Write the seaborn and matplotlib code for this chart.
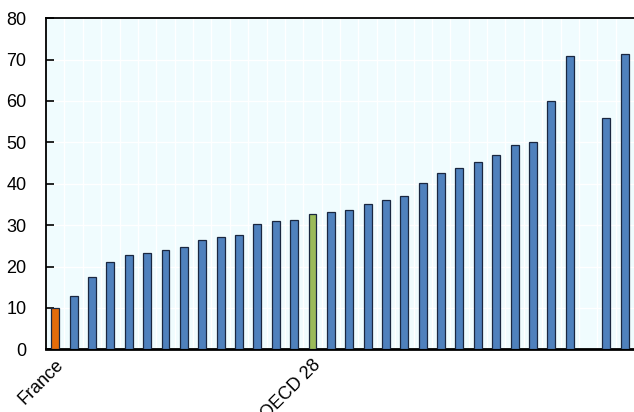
import numpy as np
import pandas as pd
import seaborn as sns
import matplotlib.pyplot as plt
from matplotlib.ticker import FixedLocator

# Values (one gap before the last two bars)
values = [10.0, 12.8, 17.5, 21.0, 22.9, 23.3, 23.9, 24.7, 26.3, 27.1, 27.7, 30.4, 31.0, 31.2,
          32.8, 33.1, 33.7, 35.1, 36.1, 37.0, 40.3, 42.7, 43.7, 45.3, 46.9, 49.4, 50.2, 59.9,
          70.9, np.nan, 55.8, 71.3]
labels = [""] * len(values)
labels[0] = "France"
labels[14] = "OECD 28"
groups = ["other"] * len(values)
groups[0] = "France"
groups[14] = "OECD"

palette = {"France": "#E46C0A", "OECD": "#9BBB59", "other": "#4F81BD"}

df = pd.DataFrame({
    "cat": [f"c{i}" for i in range(len(values))],
    "value": values,
    "group": groups,
})

sns.set_style("white")
plt.rcParams["font.family"] = ["Liberation Sans", "DejaVu Sans"]
plt.rcParams["text.color"] = "black"
plt.rcParams["xtick.color"] = "black"
plt.rcParams["ytick.color"] = "black"

fig = plt.figure(figsize=(6.34, 4.12), dpi=100)
ax = fig.add_axes([0.0726, 0.152, 0.9274, 0.804])
ax.set_facecolor("#F0FCFE")

sns.barplot(data=df, x="cat", y="value", hue="group", palette=palette, saturation=1,
            dodge=False, legend=False, width=0.43, edgecolor="#1A2740",
            linewidth=0.9, ax=ax, zorder=3)

n = len(values)
ax.set_xlim(-0.5, n - 0.5)
ax.set_ylim(0, 80)
ax.set_yticks(range(0, 81, 10))
ax.set_xticks(range(n))
ax.set_xticklabels(labels, rotation=45, ha="right", rotation_mode="anchor", fontsize=13)
ax.xaxis.set_minor_locator(FixedLocator([i + 0.5 for i in range(n - 1)]))
ax.tick_params(axis="x", which="major", length=0, pad=5)
ax.tick_params(axis="x", which="minor", direction="in", length=5, width=1.4, color="black")
ax.tick_params(axis="y", direction="in", length=6, width=1.2, color="black", labelsize=13, pad=14,
               left=True)
ax.set_xlabel("")
ax.set_ylabel("")

ax.grid(axis="y", color="white", linewidth=1.0, zorder=0)
ax.grid(axis="x", which="minor", color="white", linewidth=1.0, zorder=0)
ax.set_axisbelow(True)

for side in ["top", "left"]:
    ax.spines[side].set_color("black")
    ax.spines[side].set_linewidth(1.3)
ax.spines["bottom"].set_color("black")
ax.spines["bottom"].set_linewidth(2)
ax.spines["right"].set_visible(False)

fig.savefig("out.png", dpi=100)
